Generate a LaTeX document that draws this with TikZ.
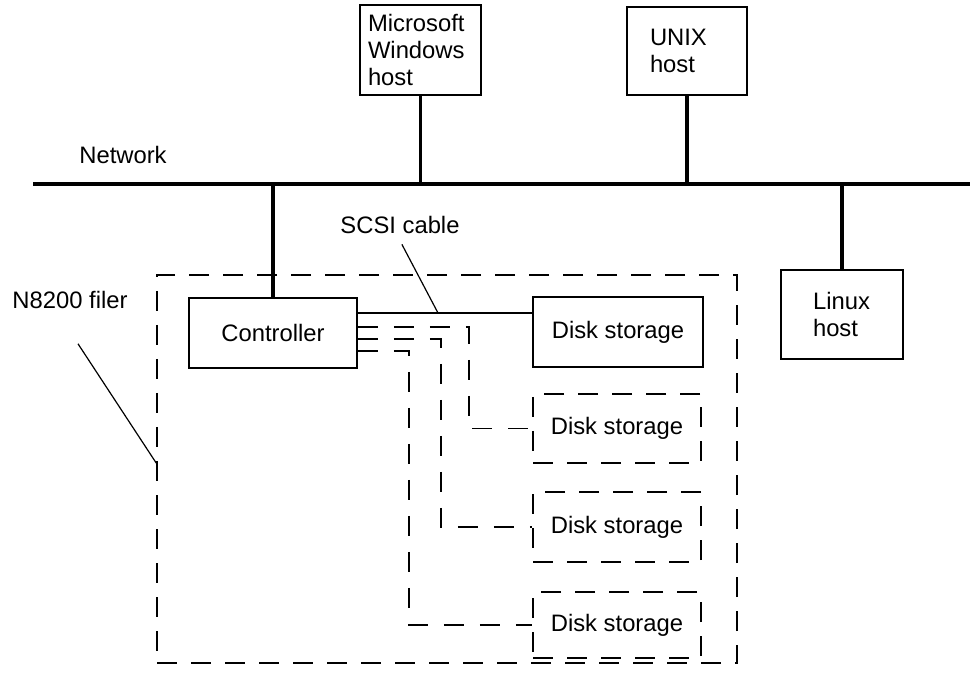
\documentclass[tikz,border=0pt]{standalone}
\usepackage{fontspec}
\setmainfont{Liberation Sans}
\usetikzlibrary{positioning,calc}

\begin{document}
\begin{tikzpicture}[x=0.5pt,y=-0.5pt,
  every node/.style={font=\fontsize{11.9}{13.3}\selectfont},
  box/.style={draw, line width=0.8pt, inner sep=0pt},
  host/.style={box, align=left},
  dbox/.style={box, dash pattern=on 10pt off 7pt},
  net/.style={line width=1.6pt},
  lead/.style={line width=0.6pt},
  link/.style={line width=0.8pt, dash pattern=on 10pt off 8pt}]
\useasboundingbox (0,0) rectangle (972,688);
\coordinate (net-w) at (33,184);
\coordinate (net-e) at (970,184);
\node (netlbl) at (123,155) {Network};
\node[host, minimum width=60.5pt, minimum height=45pt, text width=52.5pt] (win) at (420.5,50) {Microsoft\\Windows\\host};
\node[host, minimum width=60pt, minimum height=44pt, text width=37pt] (unix) at (687,51) {UNIX\\host};
\node[host, minimum width=61pt, minimum height=44.5pt, text width=29pt] (linux) at (842,314.5) {Linux\\host};
\node[box, minimum width=84pt, minimum height=35pt] (ctrl) at (273,333) {Controller};
\node[dbox, minimum width=290pt, minimum height=194pt] (filer) at (447,469) {};
\node[box, minimum width=85pt, minimum height=35pt] (disk1) at (618,332) {Disk storage};
\node[dbox, minimum width=84pt, minimum height=34.5pt] (disk2) at (617,428.5) {Disk storage};
\node[dbox, minimum width=84pt, minimum height=35pt] (disk3) at (617,527) {Disk storage};
\node[dbox, minimum width=84pt, minimum height=33pt] (disk4) at (617,625) {Disk storage};
\node (scsilbl) at (400,225) {SCSI cable};
\node (filerlbl) at (70,300) {N8200 filer};
\coordinate (tap) at (438,313);
\coordinate (bend2) at (469,327);
\coordinate (bend3) at (441,339);
\coordinate (bend4) at (409,351);

\draw[net] (net-w) -- (net-e);
\draw[net] (win.south) -- (win.south |- net-w);
\draw[net] (unix.south) -- (unix.south |- net-w);
\draw[net] (linux.north) -- (linux.north |- net-w);
\draw[net] (ctrl.north) -- (ctrl.north |- net-w);

\draw[lead] (ctrl.east |- tap) -- (disk1.west |- tap);
\draw[lead, shorten <=2pt] (scsilbl.south) -- (tap);
\draw[lead] ($(filerlbl.south)+(8,28)$) -- ($(filer.west)+(0,-6)$);

\draw[link] (ctrl.east |- bend2) -- (bend2) |- (disk2.west);
\draw[link] (ctrl.east |- bend3) -- (bend3) |- (disk3.west);
\draw[link] (ctrl.east |- bend4) -- (bend4) |- (disk4.west);
\end{tikzpicture}
\end{document}
